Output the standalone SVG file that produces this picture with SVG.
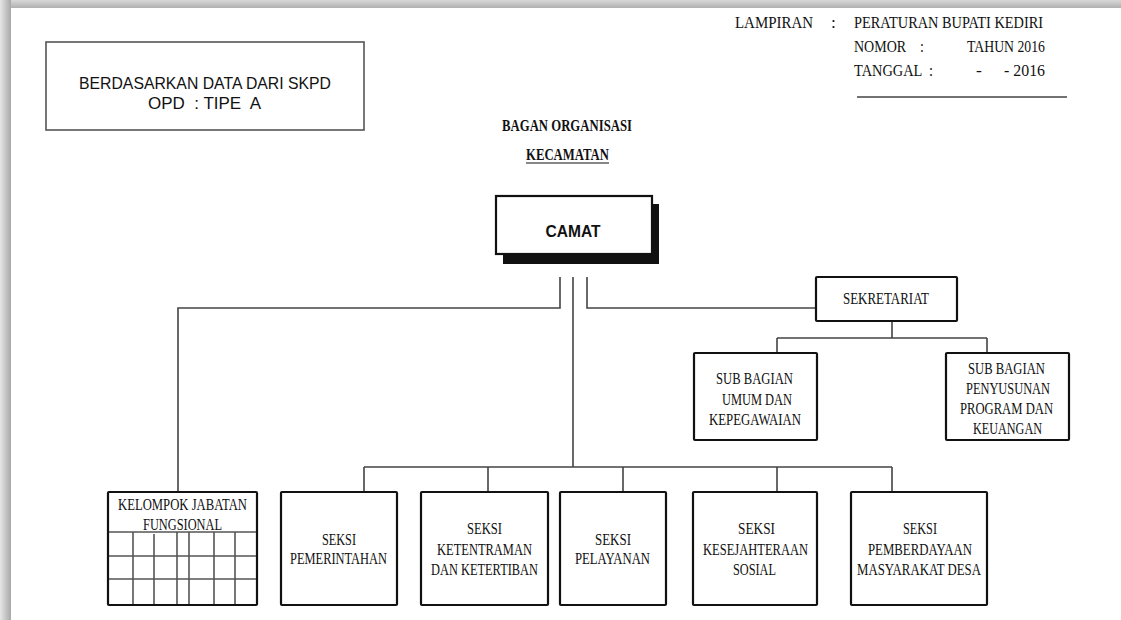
<svg xmlns="http://www.w3.org/2000/svg" width="1121" height="620" viewBox="0 0 1121 620">
<style>
.t{font-family:"Liberation Serif","Times New Roman",serif;font-size:17.5px;fill:#111}
.tb{font-family:"Liberation Serif","Times New Roman",serif;font-size:16px;font-weight:bold;fill:#111}
.s{font-family:"Liberation Sans",Arial,sans-serif;fill:#111}
.box{fill:#fff;stroke:#111;stroke-width:2.2}
.grid{stroke:#555;stroke-width:1.6;fill:none}
.conn{stroke:#444;stroke-width:1.6;fill:none}
</style>
<defs>
<linearGradient id="gt" x1="0" y1="0" x2="0" y2="1"><stop offset="0" stop-color="#d8d8d8"/><stop offset="1" stop-color="#b0b0b0"/></linearGradient>
<linearGradient id="gl" x1="0" y1="0" x2="1" y2="0"><stop offset="0" stop-color="#e6e6e6"/><stop offset="1" stop-color="#a8a8a8"/></linearGradient>
</defs>
<rect width="1121" height="620" fill="#fff"/>
<rect x="0" y="0" width="1121" height="8" fill="url(#gt)"/>
<rect x="0" y="0" width="11" height="620" fill="url(#gl)"/>

<g id="info-box">
<rect x="46" y="42" width="318" height="88" fill="#fff" stroke="#555" stroke-width="1.6"/>
<text class="s" x="79" y="89" font-size="16.5" textLength="252" lengthAdjust="spacingAndGlyphs">BERDASARKAN DATA DARI SKPD</text>
<text class="s" x="148" y="109" font-size="16.5" textLength="113" lengthAdjust="spacingAndGlyphs" xml:space="preserve">OPD  : TIPE  A</text>
</g>

<g id="lampiran">
<text class="t" x="735" y="28" textLength="78" lengthAdjust="spacingAndGlyphs">LAMPIRAN</text>
<text class="t" x="831" y="28">:</text>
<text class="t" x="854" y="28" textLength="189" lengthAdjust="spacingAndGlyphs">PERATURAN BUPATI KEDIRI</text>
<text class="t" x="854" y="52" textLength="70" lengthAdjust="spacingAndGlyphs" xml:space="preserve">NOMOR    :</text>
<text class="t" x="967" y="52" textLength="78" lengthAdjust="spacingAndGlyphs">TAHUN 2016</text>
<text class="t" x="854" y="76" textLength="79" lengthAdjust="spacingAndGlyphs" xml:space="preserve">TANGGAL  :</text>
<text class="t" x="976" y="76">-</text>
<text class="t" x="1004" y="76" textLength="41" lengthAdjust="spacingAndGlyphs">- 2016</text>
<line x1="857" y1="97" x2="1067" y2="97" stroke="#444" stroke-width="1.6"/>
</g>

<g id="title">
<text class="tb" x="502" y="131" textLength="130" lengthAdjust="spacingAndGlyphs">BAGAN  ORGANISASI</text>
<text class="tb" x="526" y="160" textLength="83" lengthAdjust="spacingAndGlyphs">KECAMATAN</text>
<line x1="526" y1="163" x2="609" y2="163" stroke="#111" stroke-width="1.2"/>
</g>

<g id="connectors">
<path class="conn" d="M560,277 V308 H178 V491"/>
<path class="conn" d="M573,277 V467"/>
<path class="conn" d="M587,277 V308 H816"/>
<path class="conn" d="M364,467 H892 M364,467 V492 M488,467 V492 M623,467 V492 M777,467 V492 M892,467 V492"/>
<path class="conn" d="M892,321 V338 M777,338 H987 M777,338 V353 M987,338 V353"/>
</g>

<g id="camat">
<rect x="503" y="204" width="156" height="60" fill="#111"/>
<rect class="box" x="496" y="196" width="156" height="58"/>
<text class="s" x="573" y="237" font-size="17" font-weight="bold" text-anchor="middle" textLength="55" lengthAdjust="spacingAndGlyphs">CAMAT</text>
</g>

<g id="sekretariat">
<rect class="box" x="816" y="277" width="141" height="44" rx="1"/>
<text class="t" x="843" y="304" textLength="86" lengthAdjust="spacingAndGlyphs">SEKRETARIAT</text>
</g>

<g id="subbag-umum">
<rect class="box" x="694" y="353" width="123" height="87" rx="1"/>
<text class="t" x="716" y="384" textLength="77" lengthAdjust="spacingAndGlyphs">SUB BAGIAN</text>
<text class="t" x="722" y="405" textLength="70" lengthAdjust="spacingAndGlyphs">UMUM DAN</text>
<text class="t" x="709" y="425" textLength="92" lengthAdjust="spacingAndGlyphs">KEPEGAWAIAN</text>
</g>

<g id="subbag-program">
<rect class="box" x="946" y="353" width="123" height="87" rx="1"/>
<text class="t" x="968" y="374" textLength="77" lengthAdjust="spacingAndGlyphs">SUB BAGIAN</text>
<text class="t" x="966" y="394" textLength="84" lengthAdjust="spacingAndGlyphs">PENYUSUNAN</text>
<text class="t" x="960" y="414" textLength="93" lengthAdjust="spacingAndGlyphs">PROGRAM DAN</text>
<text class="t" x="973" y="434" textLength="69" lengthAdjust="spacingAndGlyphs">KEUANGAN</text>
</g>

<g id="kelompok-fungsional">
<rect class="box" x="108" y="492" width="149" height="113" rx="1"/>
<path class="grid" d="M109,532 H256 M109,556 H256 M109,579 H256 M133,532 V604 M154,534 V604 M177,532 V604 M189,532 V604 M214,532 V604 M235,532 V604"/>
<text class="t" x="118" y="510" textLength="129" lengthAdjust="spacingAndGlyphs">KELOMPOK JABATAN</text>
<text class="t" x="143" y="530" textLength="79" lengthAdjust="spacingAndGlyphs">FUNGSIONAL</text>
</g>

<g id="seksi-pemerintahan">
<rect class="box" x="281" y="492" width="116" height="113" rx="1"/>
<text class="t" x="322" y="545" textLength="34" lengthAdjust="spacingAndGlyphs">SEKSI</text>
<text class="t" x="290" y="564" textLength="97" lengthAdjust="spacingAndGlyphs">PEMERINTAHAN</text>
</g>

<g id="seksi-ketentraman">
<rect class="box" x="421" y="492" width="127" height="113" rx="1"/>
<text class="t" x="467" y="534" textLength="35" lengthAdjust="spacingAndGlyphs">SEKSI</text>
<text class="t" x="437" y="555" textLength="95" lengthAdjust="spacingAndGlyphs">KETENTRAMAN</text>
<text class="t" x="431" y="575" textLength="107" lengthAdjust="spacingAndGlyphs">DAN KETERTIBAN</text>
</g>

<g id="seksi-pelayanan">
<rect class="box" x="560" y="492" width="106" height="113" rx="1"/>
<text class="t" x="595" y="545" textLength="36" lengthAdjust="spacingAndGlyphs">SEKSI</text>
<text class="t" x="575" y="564" textLength="75" lengthAdjust="spacingAndGlyphs">PELAYANAN</text>
</g>

<g id="seksi-kesejahteraan">
<rect class="box" x="693" y="492" width="124" height="113" rx="1"/>
<text class="t" x="738" y="534" textLength="37" lengthAdjust="spacingAndGlyphs">SEKSI</text>
<text class="t" x="703" y="555" textLength="105" lengthAdjust="spacingAndGlyphs">KESEJAHTERAAN</text>
<text class="t" x="733" y="575" textLength="43" lengthAdjust="spacingAndGlyphs">SOSIAL</text>
</g>

<g id="seksi-pemberdayaan">
<rect class="box" x="851" y="492" width="136" height="113" rx="1"/>
<text class="t" x="903" y="534" textLength="34" lengthAdjust="spacingAndGlyphs">SEKSI</text>
<text class="t" x="868" y="555" textLength="104" lengthAdjust="spacingAndGlyphs">PEMBERDAYAAN</text>
<text class="t" x="857" y="575" textLength="124" lengthAdjust="spacingAndGlyphs">MASYARAKAT DESA</text>
</g>
</svg>
